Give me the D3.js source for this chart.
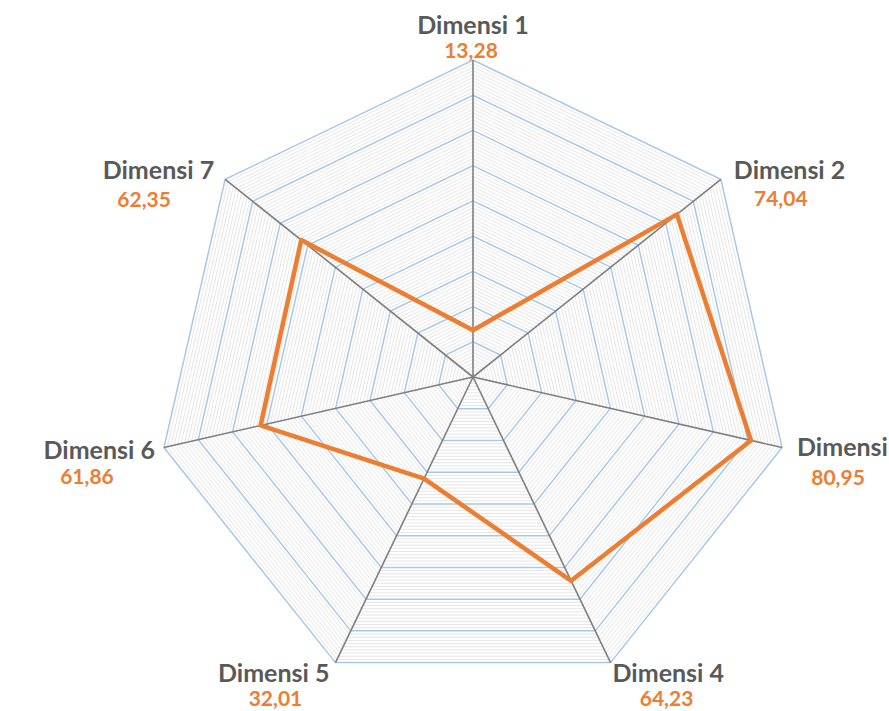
<!DOCTYPE html>
<html>
<head>
<meta charset="utf-8">
<title>Radar Dimensi</title>
<script src="https://cdn.jsdelivr.net/npm/d3@7"></script>
<style>
  body { margin: 0; background: #fff; }
  svg { display: block; }
  text { font-family: Lato, "Open Sans", sans-serif; font-weight: bold; }
</style>
</head>
<body>
<div id="chart"></div>
<script>
// data
var dimensions = ["Dimensi 1", "Dimensi 2", "Dimensi 3", "Dimensi 4", "Dimensi 5", "Dimensi 6", "Dimensi 7"];
var values = [13.28, 74.04, 80.95, 64.23, 32.01, 61.86, 62.35];
var scaleMax = 90, majorStep = 10, minorStep = 1;

var width = 889, height = 711,
    cx = 473, cy = 377, radius = 317;

// label tweaks per axis: [label dx, label dy, anchor, value dx, value dy]
var labelLayout = [
  [0, -35, "middle", -2, -9],
  [13, -9, "start", 60, 19],
  [15, 0, "start", 56, 30],
  [2, 11, "start", 56, 36],
  [-6, 11, "end", -60, 36],
  [-9, 3, "end", -77, 29],
  [-11, -9, "end", -81, 20]
];

var svg = d3.select("#chart").append("svg")
    .attr("width", width)
    .attr("height", height);

var g = svg.append("g").attr("transform", "translate(" + cx + "," + cy + ")");

var r = d3.scaleLinear().domain([0, scaleMax]).range([0, radius]);
var angle = d3.scalePoint().domain(d3.range(dimensions.length + 1)).range([0, 2 * Math.PI]);

function pt(i, v) {
  var a = angle(i);
  return [r(v) * Math.sin(a), -r(v) * Math.cos(a)];
}

function ring(v) {
  return d3.range(dimensions.length).map(function(i) { return pt(i, v); });
}

var line = d3.line().curve(d3.curveLinearClosed);

var minor = d3.range(minorStep, scaleMax, minorStep).filter(function(v) { return v % majorStep != 0; });
var major = d3.range(majorStep, scaleMax + 0.1, majorStep);

g.selectAll(".minor").data(minor).enter().append("path")
  .attr("class", "minor")
  .attr("d", function(v) { return line(ring(v)); })
  .attr("fill", "none")
  .attr("stroke", "#e3e3e3")
  .attr("stroke-width", 0.9);

g.selectAll(".major").data(major).enter().append("path")
  .attr("class", "major")
  .attr("d", function(v) { return line(ring(v)); })
  .attr("fill", "none")
  .attr("stroke", "#a6c8ea")
  .attr("stroke-width", 1.5);

g.selectAll(".axis").data(dimensions).enter().append("line")
  .attr("class", "axis")
  .attr("x1", 0).attr("y1", 0)
  .attr("x2", function(d, i) { return pt(i, scaleMax)[0]; })
  .attr("y2", function(d, i) { return pt(i, scaleMax)[1]; })
  .attr("stroke", "#7f7f7f")
  .attr("stroke-width", 1.6);

g.append("path")
  .attr("d", line(values.map(function(v, i) { return pt(i, v); })))
  .attr("fill", "none")
  .attr("stroke", "#ed7d31")
  .attr("stroke-width", 4.5)
  .attr("stroke-linejoin", "round");

var labels = g.selectAll(".lbl").data(dimensions).enter().append("g").attr("class", "lbl")
  .attr("transform", function(d, i) {
    var p = pt(i, scaleMax);
    return "translate(" + p[0] + "," + p[1] + ")";
  });

labels.append("text")
  .text(function(d) { return d; })
  .attr("x", function(d, i) { return labelLayout[i][0]; })
  .attr("y", function(d, i) { return labelLayout[i][1]; })
  .attr("dy", "0.35em")
  .attr("text-anchor", function(d, i) { return labelLayout[i][2]; })
  .attr("fill", "#595959")
  .style("font-size", "25px");

labels.append("text")
  .text(function(d, i) { return d3.format(".2f")(values[i]).replace(".", ","); })
  .attr("x", function(d, i) { return labelLayout[i][3]; })
  .attr("y", function(d, i) { return labelLayout[i][4]; })
  .attr("dy", "0.35em")
  .attr("text-anchor", "middle")
  .attr("fill", "#ed7d31")
  .style("font-size", "21px");
</script>
</body>
</html>
